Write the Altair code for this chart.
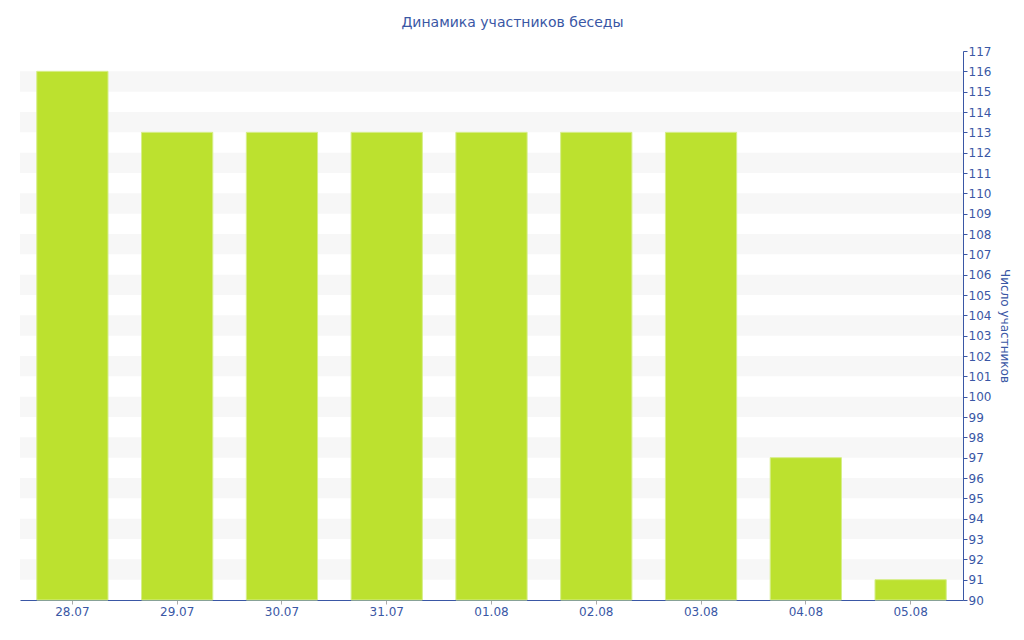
import altair as alt
import pandas as pd

dates = ["28.07", "29.07", "30.07", "31.07", "01.08", "02.08", "03.08", "04.08", "05.08"]
members = [116, 113, 113, 113, 113, 113, 113, 97, 91]
band_lo = [91, 93, 95, 97, 99, 101, 103, 105, 107, 109, 111, 113, 115]
band_hi = [92, 94, 96, 98, 100, 102, 104, 106, 108, 110, 112, 114, 116]

df = pd.DataFrame({"date": dates, "members": members})
bands = pd.DataFrame({"lo": band_lo, "hi": band_hi})

FONT = "DejaVu Sans"
BLUE = "#3a57a5"

yscale = alt.Scale(domain=[90, 117], nice=False, zero=False)
yaxis = alt.Axis(orient="right", values=list(range(90, 118)),
                 labelColor=BLUE, labelFont=FONT, labelFontSize=12,
                 domainColor=BLUE, tickColor=BLUE, tickSize=4,
                 labelPadding=1, grid=False, titleColor=BLUE,
                 titleFont=FONT, titleFontSize=12, titleFontWeight="normal",
                 titlePadding=7)
YTITLE = "Число участников"

band_layer = alt.Chart(bands).mark_rect(color="#f7f7f7").encode(
    y=alt.Y("lo:Q", scale=yscale, axis=yaxis, title=YTITLE),
    y2="hi:Q",
    x=alt.value(0),
    x2=alt.value(943),
)

bars = alt.Chart(df).mark_bar(
    color="#bce12f", stroke="#d6ee8a", strokeWidth=1
).encode(
    x=alt.X("date:N", sort=dates, title=None,
            scale=alt.Scale(paddingInner=0.32, paddingOuter=0.16),
            axis=alt.Axis(labelAngle=0, labelColor=BLUE, labelFont=FONT,
                          labelFontSize=12, domainColor=BLUE, tickColor="#aaaaaa",
                          tickSize=4, labelPadding=2, grid=False)),
    y=alt.Y("members:Q", scale=yscale, axis=yaxis, title=YTITLE),
    y2=alt.datum(90),
)

chart = alt.layer(band_layer, bars).properties(
    width=943, height=549,
    title=alt.TitleParams("Динамика участников беседы", font=FONT, fontSize=14,
                          fontWeight="normal", color=BLUE, offset=15, dx=21),
    autosize=alt.AutoSizeParams(type="none"),
    padding={"left": 12, "top": 43, "right": 53, "bottom": 24},
).configure_view(stroke=None)

chart.save("out.html", embed_options={"renderer": "svg", "actions": False})
